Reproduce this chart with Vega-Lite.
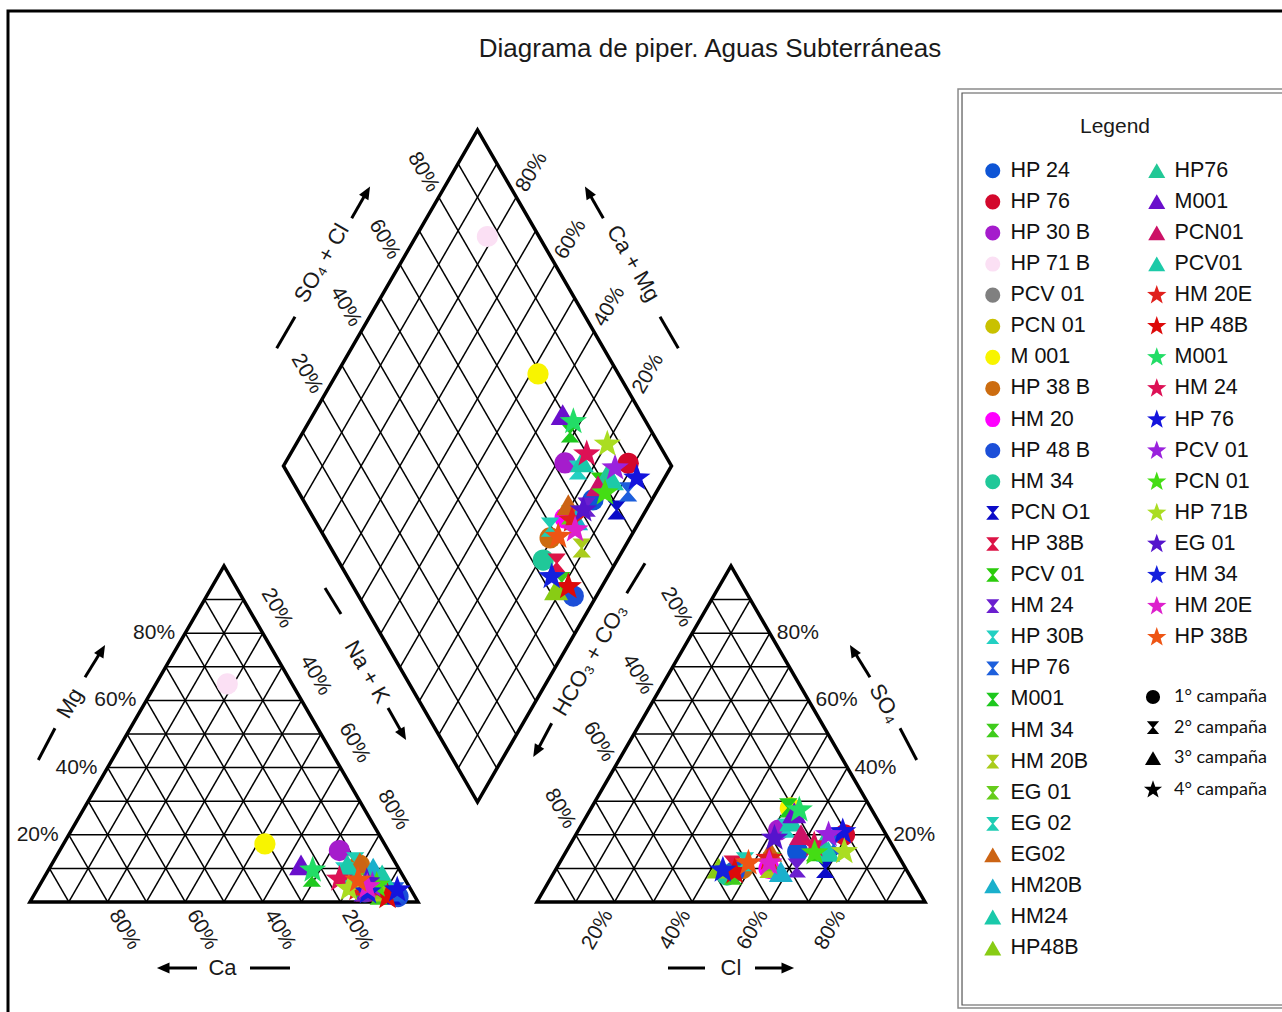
{
"$schema": "https://vega.github.io/schema/vega-lite/v6.json",
"width": 1282, "height": 1012, "padding": 0, "autosize": {"type": "none"},
"background": "white",
"config": {"view": {"stroke": null}},
"title": {"text": "Diagrama de piper. Aguas Subterráneas", "anchor": "middle", "frame": "group", "orient": "top", "offset": -83, "dx": 69, "font": "Liberation Sans", "fontSize": 26, "fontWeight": "normal", "color": "#1a1a1a", "baseline": "alphabetic"},
"encoding": {
  "x": {"field": "x", "type": "quantitative", "scale": {"domain": [-7.732, 322.68], "nice": false, "zero": false}, "axis": null},
  "y": {"field": "y", "type": "quantitative", "scale": {"domain": [-28.351, 232.474], "nice": false, "zero": false}, "axis": null}
},
"datasets": {
  "grid": [
    {"x":5,"y":8.66,"x2":95,"y2":8.66},{"x":10,"y":17.321,"x2":90,"y2":17.321},{"x":15,"y":25.981,"x2":85,"y2":25.981},{"x":20,"y":34.641,"x2":80,"y2":34.641},{"x":25,"y":43.301,"x2":75,"y2":43.301},{"x":30,"y":51.962,"x2":70,"y2":51.962},{"x":35,"y":60.622,"x2":65,"y2":60.622},{"x":40,"y":69.282,"x2":60,"y2":69.282},{"x":45,"y":77.942,"x2":55,"y2":77.942},
    {"x":10,"y":0,"x2":5,"y2":8.66},{"x":20,"y":0,"x2":10,"y2":17.321},{"x":30,"y":0,"x2":15,"y2":25.981},{"x":40,"y":0,"x2":20,"y2":34.641},{"x":50,"y":0,"x2":25,"y2":43.301},{"x":60,"y":0,"x2":30,"y2":51.962},{"x":70,"y":0,"x2":35,"y2":60.622},{"x":80,"y":0,"x2":40,"y2":69.282},{"x":90,"y":0,"x2":45,"y2":77.942},
    {"x":10,"y":0,"x2":55,"y2":77.942},{"x":20,"y":0,"x2":60,"y2":69.282},{"x":30,"y":0,"x2":65,"y2":60.622},{"x":40,"y":0,"x2":70,"y2":51.962},{"x":50,"y":0,"x2":75,"y2":43.301},{"x":60,"y":0,"x2":80,"y2":34.641},{"x":70,"y":0,"x2":85,"y2":25.981},{"x":80,"y":0,"x2":90,"y2":17.321},{"x":90,"y":0,"x2":95,"y2":8.66},
    {"x":135.67,"y":8.66,"x2":225.67,"y2":8.66},{"x":140.67,"y":17.321,"x2":220.67,"y2":17.321},{"x":145.67,"y":25.981,"x2":215.67,"y2":25.981},{"x":150.67,"y":34.641,"x2":210.67,"y2":34.641},{"x":155.67,"y":43.301,"x2":205.67,"y2":43.301},{"x":160.67,"y":51.962,"x2":200.67,"y2":51.962},{"x":165.67,"y":60.622,"x2":195.67,"y2":60.622},{"x":170.67,"y":69.282,"x2":190.67,"y2":69.282},{"x":175.67,"y":77.942,"x2":185.67,"y2":77.942},
    {"x":140.67,"y":0,"x2":135.67,"y2":8.66},{"x":150.67,"y":0,"x2":140.67,"y2":17.321},{"x":160.67,"y":0,"x2":145.67,"y2":25.981},{"x":170.67,"y":0,"x2":150.67,"y2":34.641},{"x":180.67,"y":0,"x2":155.67,"y2":43.301},{"x":190.67,"y":0,"x2":160.67,"y2":51.962},{"x":200.67,"y":0,"x2":165.67,"y2":60.622},{"x":210.67,"y":0,"x2":170.67,"y2":69.282},{"x":220.67,"y":0,"x2":175.67,"y2":77.942},
    {"x":140.67,"y":0,"x2":185.67,"y2":77.942},{"x":150.67,"y":0,"x2":190.67,"y2":69.282},{"x":160.67,"y":0,"x2":195.67,"y2":60.622},{"x":170.67,"y":0,"x2":200.67,"y2":51.962},{"x":180.67,"y":0,"x2":205.67,"y2":43.301},{"x":190.67,"y":0,"x2":210.67,"y2":34.641},{"x":200.67,"y":0,"x2":215.67,"y2":25.981},{"x":210.67,"y":0,"x2":220.67,"y2":17.321},{"x":220.67,"y":0,"x2":225.67,"y2":8.66},
    {"x":110.335,"y":34.43,"x2":160.335,"y2":121.033},{"x":105.335,"y":43.091,"x2":155.335,"y2":129.694},{"x":100.335,"y":51.751,"x2":150.335,"y2":138.354},{"x":95.335,"y":60.411,"x2":145.335,"y2":147.014},{"x":90.335,"y":69.072,"x2":140.335,"y2":155.675},{"x":85.335,"y":77.732,"x2":135.335,"y2":164.335},{"x":80.335,"y":86.392,"x2":130.335,"y2":172.995},{"x":75.335,"y":95.052,"x2":125.335,"y2":181.655},{"x":70.335,"y":103.713,"x2":120.335,"y2":190.316},
    {"x":120.335,"y":34.43,"x2":70.335,"y2":121.033},{"x":125.335,"y":43.091,"x2":75.335,"y2":129.694},{"x":130.335,"y":51.751,"x2":80.335,"y2":138.354},{"x":135.335,"y":60.411,"x2":85.335,"y2":147.014},{"x":140.335,"y":69.072,"x2":90.335,"y2":155.675},{"x":145.335,"y":77.732,"x2":95.335,"y2":164.335},{"x":150.335,"y":86.392,"x2":100.335,"y2":172.995},{"x":155.335,"y":95.052,"x2":105.335,"y2":181.655},{"x":160.335,"y":103.713,"x2":110.335,"y2":190.316}
  ],
  "outline": [
    {"p":"L","i":0,"x":50,"y":0},{"p":"L","i":1,"x":100,"y":0},{"p":"L","i":2,"x":50,"y":86.603},{"p":"L","i":3,"x":0,"y":0},{"p":"L","i":4,"x":50,"y":0},
    {"p":"R","i":0,"x":180.67,"y":0},{"p":"R","i":1,"x":230.67,"y":0},{"p":"R","i":2,"x":180.67,"y":86.603},{"p":"R","i":3,"x":130.67,"y":0},{"p":"R","i":4,"x":180.67,"y":0},
    {"p":"D","i":0,"x":90.335,"y":69.072},{"p":"D","i":1,"x":115.335,"y":25.77},{"p":"D","i":2,"x":165.335,"y":112.373},{"p":"D","i":3,"x":115.335,"y":198.976},{"p":"D","i":4,"x":65.335,"y":112.373},{"p":"D","i":5,"x":90.335,"y":69.072}
  ],
  "strokes": [
    {"x":56.70,"y":-17.01,"x2":67.01,"y2":-17.01},{"x":43.04,"y":-17.01,"x2":35.05,"y2":-17.01},
    {"x":164.43,"y":-17.01,"x2":173.97,"y2":-17.01},{"x":186.86,"y":-17.01,"x2":194.85,"y2":-17.01},
    {"x":2.14,"y":36.60,"x2":6.44,"y2":44.77},{"x":14.18,"y":57.91,"x2":18.04,"y2":64.18},
    {"x":76.03,"y":80.93,"x2":80.15,"y2":74.23},{"x":92.27,"y":50.0,"x2":95.62,"y2":44.07},
    {"x":63.58,"y":142.71,"x2":68.30,"y2":150.85},{"x":82.91,"y":176.21,"x2":86.34,"y2":182.22},
    {"x":167.09,"y":142.71,"x2":162.37,"y2":150.85},{"x":147.76,"y":176.21,"x2":144.33,"y2":182.22},
    {"x":153.79,"y":79.56,"x2":158.51,"y2":87.29},{"x":134.46,"y":46.06,"x2":130.93,"y2":39.43},
    {"x":228.53,"y":36.60,"x2":224.23,"y2":44.77},{"x":216.49,"y":57.91,"x2":212.63,"y2":64.18}
  ],
  "ptsA": [
    {"k":"HP 24|1","camp":"1° campaña","x":86.3,"y":2.6},{"k":"HP 24|1","camp":"1° campaña","x":197.87,"y":12.99},{"k":"HP 24|1","camp":"1° campaña","x":145.09,"y":103.63},
    {"k":"HP 76|2","camp":"1° campaña","x":89.95,"y":2.6},{"k":"HP 76|2","camp":"1° campaña","x":209.92,"y":17.32},{"k":"HP 76|2","camp":"1° campaña","x":154.19,"y":113.07},
    {"k":"HP 30 B|3","camp":"1° campaña","x":79.75,"y":13.25},{"k":"HP 30 B|3","camp":"1° campaña","x":192.97,"y":18.53},{"k":"HP 30 B|3","camp":"1° campaña","x":137.89,"y":113.15},
    {"k":"HP 71 B|4","camp":"1° campaña","x":50.85,"y":56.21},{"k":"HP 71 B|4","camp":"1° campaña","x":195.88,"y":23.71},{"k":"HP 71 B|4","camp":"1° campaña","x":117.89,"y":171.52},
    {"k":"M 001|7","camp":"1° campaña","x":60.55,"y":14.98},{"k":"M 001|7","camp":"1° campaña","x":195.97,"y":24.25},{"k":"M 001|7","camp":"1° campaña","x":130.94,"y":136.1},
    {"k":"HP 38 B|8","camp":"1° campaña","x":84.9,"y":9.53},{"k":"HP 38 B|8","camp":"1° campaña","x":183.67,"y":8.66},{"k":"HP 38 B|8","camp":"1° campaña","x":134.04,"y":93.84},
    {"k":"HM 20|9","camp":"1° campaña","x":83.3,"y":5.2},{"k":"HM 20|9","camp":"1° campaña","x":190.47,"y":8.66},{"k":"HM 20|9","camp":"1° campaña","x":137.89,"y":98.95},
    {"k":"HP 48 B|10","camp":"1° campaña","x":94.85,"y":1.39},{"k":"HP 48 B|10","camp":"1° campaña","x":181.52,"y":7.79},{"k":"HP 48 B|10","camp":"1° campaña","x":140.04,"y":78.86},
    {"k":"HM 34|11","camp":"1° campaña","x":83.45,"y":4.33},{"k":"HM 34|11","camp":"1° campaña","x":179.62,"y":6.93},{"k":"HM 34|11","camp":"1° campaña","x":132.29,"y":88.12},
    {"k":"PCN O1|12","camp":"2° campaña","x":93.4,"y":1.73},{"k":"PCN O1|12","camp":"2° campaña","x":204.97,"y":8.66},{"k":"PCN O1|12","camp":"2° campaña","x":151.19,"y":101.03},
    {"k":"HP 38B|13","camp":"2° campaña","x":86.35,"y":2.6},{"k":"HP 38B|13","camp":"2° campaña","x":181.12,"y":9.53},{"k":"HP 38B|13","camp":"2° campaña","x":135.74,"y":87.34},
    {"k":"PCV 01|14","camp":"2° campaña","x":85.95,"y":3.46},{"k":"PCV 01|14","camp":"2° campaña","x":202.32,"y":12.99},{"k":"PCV 01|14","camp":"2° campaña","x":146.89,"y":108.22},
    {"k":"HM 24|15","camp":"2° campaña","x":85.75,"y":2.6},{"k":"HM 24|15","camp":"2° campaña","x":197.62,"y":8.75},{"k":"HM 24|15","camp":"2° campaña","x":143.46,"y":101.76},
    {"k":"HP 30B|16","camp":"2° campaña","x":81.0,"y":7.79},{"k":"HP 30B|16","camp":"2° campaña","x":194.97,"y":19.05},{"k":"HP 30B|16","camp":"2° campaña","x":141.24,"y":111.33},
    {"k":"HP 76|17","camp":"2° campaña","x":94.15,"y":2.6},{"k":"HP 76|17","camp":"2° campaña","x":207.12,"y":14.72},{"k":"HP 76|17","camp":"2° campaña","x":154.14,"y":105.7},
    {"k":"M001|18","camp":"2° campaña","x":72.65,"y":6.41},{"k":"M001|18","camp":"2° campaña","x":195.42,"y":24.25},{"k":"M001|18","camp":"2° campaña","x":139.19,"y":120.86},
    {"k":"HM 34|19","camp":"2° campaña","x":89.9,"y":1.73},{"k":"HM 34|19","camp":"2° campaña","x":181.17,"y":6.93},{"k":"HM 34|19","camp":"2° campaña","x":137.04,"y":82.58},
    {"k":"HM 20B|20","camp":"2° campaña","x":90.55,"y":2.6},{"k":"HM 20B|20","camp":"2° campaña","x":190.32,"y":8.66},{"k":"HM 20B|20","camp":"2° campaña","x":142.19,"y":91.24},
    {"k":"EG 01|21","camp":"2° campaña","x":84.65,"y":6.06},{"k":"EG 01|21","camp":"2° campaña","x":191.22,"y":10.39},{"k":"EG 01|21","camp":"2° campaña","x":139.19,"y":99.73},
    {"k":"EG 02|22","camp":"2° campaña","x":83.8,"y":10.39},{"k":"EG 02|22","camp":"2° campaña","x":184.27,"y":10.39},{"k":"EG 02|22","camp":"2° campaña","x":134.04,"y":96.61},
    {"k":"EG02|23","camp":"3° campaña","x":85.0,"y":10.05},{"k":"EG02|23","camp":"3° campaña","x":190.77,"y":12.99},{"k":"EG02|23","camp":"3° campaña","x":138.74,"y":102.33},
    {"k":"HM20B|24","camp":"3° campaña","x":88.45,"y":8.66},{"k":"HM20B|24","camp":"3° campaña","x":193.52,"y":7.79},{"k":"HM20B|24","camp":"3° campaña","x":140.74,"y":98.43},
    {"k":"HM24|25","camp":"3° campaña","x":81.8,"y":9.53},{"k":"HM24|25","camp":"3° campaña","x":196.17,"y":20.78},{"k":"HM24|25","camp":"3° campaña","x":142.24,"y":113.41},
    {"k":"HP48B|26","camp":"3° campaña","x":90.7,"y":3.46},{"k":"HP48B|26","camp":"3° campaña","x":177.47,"y":8.66},{"k":"HP48B|26","camp":"3° campaña","x":135.59,"y":80.42}
  ],
  "ptsB": [
    {"k":"HP76|1","camp":"3° campaña","x":87.75,"y":5.2},{"k":"HP76|1","camp":"3° campaña","x":204.22,"y":14.72},{"k":"HP76|1","camp":"3° campaña","x":148.74,"y":110.03},
    {"k":"M001|2","camp":"3° campaña","x":69.85,"y":9.53},{"k":"M001|2","camp":"3° campaña","x":196.97,"y":22.95},{"k":"M001|2","camp":"3° campaña","x":137.29,"y":125.54},
    {"k":"PCN01|3","camp":"3° campaña","x":86.55,"y":4.33},{"k":"PCN01|3","camp":"3° campaña","x":198.72,"y":17.32},{"k":"PCN01|3","camp":"3° campaña","x":146.39,"y":107.18},
    {"k":"PCV01|4","camp":"3° campaña","x":90.75,"y":6.93},{"k":"PCV01|4","camp":"3° campaña","x":205.72,"y":12.99},{"k":"PCV01|4","camp":"3° campaña","x":149.99,"y":108.74},
    {"k":"HM 20E|5","camp":"4° campaña","x":84.4,"y":3.46},{"k":"HM 20E|5","camp":"4° campaña","x":190.47,"y":11.26},{"k":"HM 20E|5","camp":"4° campaña","x":139.69,"y":98.43},
    {"k":"HP 48B|6","camp":"4° campaña","x":92.15,"y":1.39},{"k":"HP 48B|6","camp":"4° campaña","x":181.62,"y":7.79},{"k":"HP 48B|6","camp":"4° campaña","x":138.74,"y":81.28},
    {"k":"M001|7","camp":"4° campaña","x":72.85,"y":8.23},{"k":"M001|7","camp":"4° campaña","x":198.27,"y":23.73},{"k":"M001|7","camp":"4° campaña","x":140.04,"y":123.8},
    {"k":"HM 24|8","camp":"4° campaña","x":79.75,"y":5.89},{"k":"HM 24|8","camp":"4° campaña","x":202.12,"y":14.72},{"k":"HM 24|8","camp":"4° campaña","x":143.49,"y":115.49},
    {"k":"HP 76|9","camp":"4° campaña","x":94.65,"y":3.12},{"k":"HP 76|9","camp":"4° campaña","x":209.47,"y":18.1},{"k":"HP 76|9","camp":"4° campaña","x":156.39,"y":109.26},
    {"k":"PCV 01|10","camp":"4° campaña","x":88.25,"y":4.33},{"k":"PCV 01|10","camp":"4° campaña","x":205.82,"y":17.32},{"k":"PCV 01|10","camp":"4° campaña","x":150.79,"y":111.85},
    {"k":"PCN 01|11","camp":"4° campaña","x":89.35,"y":4.33},{"k":"PCN 01|11","camp":"4° campaña","x":202.22,"y":12.64},{"k":"PCN 01|11","camp":"4° campaña","x":148.19,"y":105.44},
    {"k":"HP 71B|12","camp":"4° campaña","x":82.2,"y":3.46},{"k":"HP 71B|12","camp":"4° campaña","x":209.87,"y":12.99},{"k":"HP 71B|12","camp":"4° campaña","x":148.79,"y":118.0},
    {"k":"EG 01|13","camp":"4° campaña","x":86.8,"y":5.2},{"k":"EG 01|13","camp":"4° campaña","x":191.87,"y":16.45},{"k":"EG 01|13","camp":"4° campaña","x":142.59,"y":101.03},
    {"k":"HM 34|14","camp":"4° campaña","x":87.1,"y":2.6},{"k":"HM 34|14","camp":"4° campaña","x":178.57,"y":8.23},{"k":"HM 34|14","camp":"4° campaña","x":134.46,"y":83.84},
    {"k":"HM 20E|15","camp":"4° campaña","x":86.93,"y":3.94},{"k":"HM 20E|15","camp":"4° campaña","x":190.52,"y":10.05},{"k":"HM 20E|15","camp":"4° campaña","x":140.49,"y":95.92},
    {"k":"HP 38B|16","camp":"4° campaña","x":84.55,"y":5.63},{"k":"HP 38B|16","camp":"4° campaña","x":185.17,"y":10.05},{"k":"HP 38B|16","camp":"4° campaña","x":136.14,"y":94.19}
  ],
  "camps": [{"camp":"1° campaña"},{"camp":"2° campaña"},{"camp":"3° campaña"},{"camp":"4° campaña"}]
},
"layer": [
  {"data": {"values": [{"x": -5.67, "y": 229.64, "x2": 340, "y2": -40}]}, "mark": {"type": "rect", "fill": null, "fillOpacity": 0, "stroke": "black", "strokeWidth": 3},
   "encoding": {"x2": {"field": "x2"}, "y2": {"field": "y2"}}},
  {"data": {"values": [{"x": 239.18, "y": 209.54, "x2": 340, "y2": -27.32}]}, "mark": {"type": "rect", "fill": null, "fillOpacity": 0, "stroke": "#8a8a8a", "strokeWidth": 1.5},
   "encoding": {"x2": {"field": "x2"}, "y2": {"field": "y2"}}},
  {"data": {"values": [{"x": 240.21, "y": 208.51, "x2": 340, "y2": -26.55}]}, "mark": {"type": "rect", "fill": null, "fillOpacity": 0, "stroke": "#555555", "strokeWidth": 1.2},
   "encoding": {"x2": {"field": "x2"}, "y2": {"field": "y2"}}},
  {"data": {"name": "grid"}, "mark": {"type": "rule", "color": "black", "strokeWidth": 1.5},
   "encoding": {"x2": {"field": "x2"}, "y2": {"field": "y2"}}},
  {"data": {"name": "outline"}, "mark": {"type": "line", "color": "black", "strokeWidth": 3.5, "strokeJoin": "miter"},
   "encoding": {"detail": {"field": "p", "type": "nominal"}, "order": {"field": "i", "type": "quantitative"}}},
  {"data": {"name": "strokes"}, "mark": {"type": "rule", "color": "black", "strokeWidth": 3},
   "encoding": {"x2": {"field": "x2"}, "y2": {"field": "y2"}}},
  {"data": {"values": [{"x":34.41,"y":-17.01}]}, "mark": {"type": "point", "filled": true, "color": "black", "opacity": 1, "size": 144, "angle": 270, "shape": "M0,-1.1L0.9,1L-0.9,1Z"}},
  {"data": {"values": [{"x":195.23,"y":-17.01}]}, "mark": {"type": "point", "filled": true, "color": "black", "opacity": 1, "size": 144, "angle": 90, "shape": "M0,-1.1L0.9,1L-0.9,1Z"}},
  {"data": {"values": [{"x":18.49,"y":64.79},{"x":86.79,"y":182.91}]}, "mark": {"type": "point", "filled": true, "color": "black", "opacity": 1, "size": 144, "angle": 30, "shape": "M0,-1.1L0.9,1L-0.9,1Z"}},
  {"data": {"values": [{"x":96.07,"y":43.2}]}, "mark": {"type": "point", "filled": true, "color": "black", "opacity": 1, "size": 144, "angle": 150, "shape": "M0,-1.1L0.9,1L-0.9,1Z"}},
  {"data": {"values": [{"x":143.88,"y":182.91},{"x":212.18,"y":64.79}]}, "mark": {"type": "point", "filled": true, "color": "black", "opacity": 1, "size": 144, "angle": 330, "shape": "M0,-1.1L0.9,1L-0.9,1Z"}},
  {"data": {"values": [{"x":130.55,"y":38.87}]}, "mark": {"type": "point", "filled": true, "color": "black", "opacity": 1, "size": 144, "angle": 210, "shape": "M0,-1.1L0.9,1L-0.9,1Z"}},
  {"data": {"values": [{"t":"20%","x":7.4,"y":17.32},{"t":"40%","x":17.4,"y":34.64},{"t":"60%","x":27.4,"y":51.96},{"t":"80%","x":37.4,"y":69.28}]},
   "mark": {"type": "text", "align": "right", "baseline": "middle", "font": "Liberation Sans", "fontSize": 21, "color": "#1a1a1a"}, "encoding": {"text": {"field": "t"}}},
  {"data": {"values": [{"t":"20%","x":222.47,"y":17.32},{"t":"40%","x":212.47,"y":34.64},{"t":"60%","x":202.47,"y":51.96},{"t":"80%","x":192.47,"y":69.28}]},
   "mark": {"type": "text", "align": "left", "baseline": "middle", "font": "Liberation Sans", "fontSize": 21, "color": "#1a1a1a"}, "encoding": {"text": {"field": "t"}}},
  {"data": {"values": [{"t":"80%","x":21.65,"y":-2.45},{"t":"60%","x":41.65,"y":-2.45},{"t":"40%","x":61.65,"y":-2.45},{"t":"20%","x":81.65,"y":-2.45}]},
   "mark": {"type": "text", "align": "left", "baseline": "middle", "angle": 60, "font": "Liberation Sans", "fontSize": 21, "color": "#1a1a1a"}, "encoding": {"text": {"field": "t"}}},
  {"data": {"values": [{"t":"20%","x":149.02,"y":-2.45},{"t":"40%","x":169.02,"y":-2.45},{"t":"60%","x":189.02,"y":-2.45},{"t":"80%","x":209.02,"y":-2.45}]},
   "mark": {"type": "text", "align": "right", "baseline": "middle", "angle": 300, "font": "Liberation Sans", "fontSize": 21, "color": "#1a1a1a"}, "encoding": {"text": {"field": "t"}}},
  {"data": {"values": [{"t":"20%","x":63.6,"y":75.7},{"t":"40%","x":73.6,"y":58.4},{"t":"60%","x":83.6,"y":41.0},{"t":"80%","x":93.6,"y":23.7},
     {"t":"20%","x":71.335,"y":136.13},{"t":"40%","x":81.335,"y":153.45},{"t":"60%","x":91.335,"y":170.77},{"t":"80%","x":101.335,"y":188.1},
     {"t":"20%","x":166.57,"y":75.98},{"t":"40%","x":156.57,"y":58.66},{"t":"60%","x":146.57,"y":41.34},{"t":"80%","x":136.57,"y":24.02}]},
   "mark": {"type": "text", "align": "center", "baseline": "middle", "angle": 60, "font": "Liberation Sans", "fontSize": 21, "color": "#1a1a1a"}, "encoding": {"text": {"field": "t"}}},
  {"data": {"values": [{"t":"20%","x":159.335,"y":136.13},{"t":"40%","x":149.335,"y":153.45},{"t":"60%","x":139.335,"y":170.77},{"t":"80%","x":129.335,"y":188.1}]},
   "mark": {"type": "text", "align": "center", "baseline": "middle", "angle": 300, "font": "Liberation Sans", "fontSize": 21, "color": "#1a1a1a"}, "encoding": {"text": {"field": "t"}}},
  {"data": {"values": [{"t":"Ca","x":49.61,"y":-17.01},{"t":"Cl","x":180.67,"y":-17.01}]},
   "mark": {"type": "text", "align": "center", "baseline": "middle", "font": "Liberation Sans", "fontSize": 22, "color": "#1a1a1a"}, "encoding": {"text": {"field": "t"}}},
  {"data": {"values": [{"t":"Mg","x":10.31,"y":51.21},{"t":"SO₄ + Cl","x":75.18,"y":164.61},{"t":"HCO₃ + CO₃","x":144.33,"y":62.37}]},
   "mark": {"type": "text", "align": "center", "baseline": "middle", "angle": 300, "font": "Liberation Sans", "fontSize": 22, "color": "#1a1a1a"}, "encoding": {"text": {"field": "t"}}},
  {"data": {"values": [{"t":"Na + K","x":86.86,"y":59.28},{"t":"Ca + Mg","x":155.49,"y":164.61},{"t":"SO₄","x":220.36,"y":51.21}]},
   "mark": {"type": "text", "align": "center", "baseline": "middle", "angle": 60, "font": "Liberation Sans", "fontSize": 22, "color": "#1a1a1a"}, "encoding": {"text": {"field": "t"}}},
  {"data": {"values": [{"t":"Legend","x":279.64,"y":199.7}]}, "mark": {"type": "text", "align": "center", "baseline": "middle", "font": "Liberation Sans", "fontSize": 21, "color": "#1a1a1a"},
   "encoding": {"text": {"field": "t"}}},
  {"data": {"name": "ptsA"}, "mark": {"type": "point", "filled": true, "opacity": 1, "size": 450, "strokeWidth": 0},
   "encoding": {
     "color": {"field": "k", "type": "nominal",
       "scale": {"domain": ["HP 24|1","HP 76|2","HP 30 B|3","HP 71 B|4","PCV 01|5","PCN 01|6","M 001|7","HP 38 B|8","HM 20|9","HP 48 B|10","HM 34|11","PCN O1|12","HP 38B|13","PCV 01|14","HM 24|15","HP 30B|16","HP 76|17","M001|18","HM 34|19","HM 20B|20","EG 01|21","EG 02|22","EG02|23","HM20B|24","HM24|25","HP48B|26"],
                 "range": ["#0e55d5","#d3082c","#a51ccc","#fbe0f4","#808080","#c9c100","#f8f400","#cc6c10","#ff00ff","#1c4fd8","#20c899","#0c0cc8","#dc1446","#2bcc0c","#6b1fcf","#22d0c2","#1d5fdc","#1ec81e","#3fcc1c","#aacc1c","#66cc1c","#1fcdb4","#cc6414","#1ab0cc","#1ac9aa","#88cc14"]},
       "legend": {"title": null, "orient": "none", "legendX": 982, "legendY": 160, "labelFont": "Liberation Sans", "labelFontSize": 21.5, "labelColor": "#111111", "symbolSize": 227, "rowPadding": 8.1, "labelOffset": 7, "padding": 0, "labelLimit": 300, "symbolOpacity": 1, "symbolStrokeWidth": 0, "labelExpr": "split(datum.label, '|')[0]"}},
     "shape": {"field": "k", "type": "nominal",
       "scale": {"domain": ["HP 24|1","HP 76|2","HP 30 B|3","HP 71 B|4","PCV 01|5","PCN 01|6","M 001|7","HP 38 B|8","HM 20|9","HP 48 B|10","HM 34|11","PCN O1|12","HP 38B|13","PCV 01|14","HM 24|15","HP 30B|16","HP 76|17","M001|18","HM 34|19","HM 20B|20","EG 01|21","EG 02|22","EG02|23","HM20B|24","HM24|25","HP48B|26"],
                 "range": ["circle","circle","circle","circle","circle","circle","circle","circle","circle","circle","circle",
                   "M-0.87,-0.9L0.87,-0.9L0.1,0L0.87,0.9L-0.87,0.9L-0.1,0Z","M-0.87,-0.9L0.87,-0.9L0.1,0L0.87,0.9L-0.87,0.9L-0.1,0Z","M-0.87,-0.9L0.87,-0.9L0.1,0L0.87,0.9L-0.87,0.9L-0.1,0Z","M-0.87,-0.9L0.87,-0.9L0.1,0L0.87,0.9L-0.87,0.9L-0.1,0Z","M-0.87,-0.9L0.87,-0.9L0.1,0L0.87,0.9L-0.87,0.9L-0.1,0Z","M-0.87,-0.9L0.87,-0.9L0.1,0L0.87,0.9L-0.87,0.9L-0.1,0Z","M-0.87,-0.9L0.87,-0.9L0.1,0L0.87,0.9L-0.87,0.9L-0.1,0Z","M-0.87,-0.9L0.87,-0.9L0.1,0L0.87,0.9L-0.87,0.9L-0.1,0Z","M-0.87,-0.9L0.87,-0.9L0.1,0L0.87,0.9L-0.87,0.9L-0.1,0Z","M-0.87,-0.9L0.87,-0.9L0.1,0L0.87,0.9L-0.87,0.9L-0.1,0Z","M-0.87,-0.9L0.87,-0.9L0.1,0L0.87,0.9L-0.87,0.9L-0.1,0Z",
                   "M0,-1L1.13,0.96L-1.13,0.96Z","M0,-1L1.13,0.96L-1.13,0.96Z","M0,-1L1.13,0.96L-1.13,0.96Z","M0,-1L1.13,0.96L-1.13,0.96Z"]},
       "legend": {"title": null, "orient": "none", "legendX": 982, "legendY": 160, "labelFont": "Liberation Sans", "labelFontSize": 21.5, "labelColor": "#111111", "symbolSize": 227, "rowPadding": 8.1, "labelOffset": 7, "padding": 0, "labelLimit": 300, "symbolOpacity": 1, "symbolStrokeWidth": 0, "labelExpr": "split(datum.label, '|')[0]"}}
   }},
  {"data": {"name": "ptsB"}, "mark": {"type": "point", "filled": true, "opacity": 1, "size": 450, "strokeWidth": 0},
   "encoding": {
     "color": {"field": "k", "type": "nominal",
       "scale": {"domain": ["HP76|1","M001|2","PCN01|3","PCV01|4","HM 20E|5","HP 48B|6","M001|7","HM 24|8","HP 76|9","PCV 01|10","PCN 01|11","HP 71B|12","EG 01|13","HM 34|14","HM 20E|15","HP 38B|16"],
                 "range": ["#22c896","#6a0fcc","#cc1166","#1ccaa8","#e0201c","#dd0a0a","#22dd66","#dd1155","#1414dd","#9a22dd","#44dd14","#aadd22","#5514cc","#1420dd","#dd20cc","#ee5514"]},
       "legend": {"title": null, "orient": "none", "legendX": 1146, "legendY": 160, "labelFont": "Liberation Sans", "labelFontSize": 21.5, "labelColor": "#111111", "symbolSize": 227, "rowPadding": 8.1, "labelOffset": 7, "padding": 0, "labelLimit": 300, "symbolOpacity": 1, "symbolStrokeWidth": 0, "labelExpr": "split(datum.label, '|')[0]"}},
     "shape": {"field": "k", "type": "nominal",
       "scale": {"domain": ["HP76|1","M001|2","PCN01|3","PCV01|4","HM 20E|5","HP 48B|6","M001|7","HM 24|8","HP 76|9","PCV 01|10","PCN 01|11","HP 71B|12","EG 01|13","HM 34|14","HM 20E|15","HP 38B|16"],
                 "range": ["M0,-1L1.13,0.96L-1.13,0.96Z","M0,-1L1.13,0.96L-1.13,0.96Z","M0,-1L1.13,0.96L-1.13,0.96Z","M0,-1L1.13,0.96L-1.13,0.96Z",
                   "M0,-1.35L0.323,-0.445L1.284,-0.417L0.523,0.17L0.794,1.092L0,0.55L-0.794,1.092L-0.523,0.17L-1.284,-0.417L-0.323,-0.445Z","M0,-1.35L0.323,-0.445L1.284,-0.417L0.523,0.17L0.794,1.092L0,0.55L-0.794,1.092L-0.523,0.17L-1.284,-0.417L-0.323,-0.445Z","M0,-1.35L0.323,-0.445L1.284,-0.417L0.523,0.17L0.794,1.092L0,0.55L-0.794,1.092L-0.523,0.17L-1.284,-0.417L-0.323,-0.445Z","M0,-1.35L0.323,-0.445L1.284,-0.417L0.523,0.17L0.794,1.092L0,0.55L-0.794,1.092L-0.523,0.17L-1.284,-0.417L-0.323,-0.445Z","M0,-1.35L0.323,-0.445L1.284,-0.417L0.523,0.17L0.794,1.092L0,0.55L-0.794,1.092L-0.523,0.17L-1.284,-0.417L-0.323,-0.445Z","M0,-1.35L0.323,-0.445L1.284,-0.417L0.523,0.17L0.794,1.092L0,0.55L-0.794,1.092L-0.523,0.17L-1.284,-0.417L-0.323,-0.445Z","M0,-1.35L0.323,-0.445L1.284,-0.417L0.523,0.17L0.794,1.092L0,0.55L-0.794,1.092L-0.523,0.17L-1.284,-0.417L-0.323,-0.445Z","M0,-1.35L0.323,-0.445L1.284,-0.417L0.523,0.17L0.794,1.092L0,0.55L-0.794,1.092L-0.523,0.17L-1.284,-0.417L-0.323,-0.445Z","M0,-1.35L0.323,-0.445L1.284,-0.417L0.523,0.17L0.794,1.092L0,0.55L-0.794,1.092L-0.523,0.17L-1.284,-0.417L-0.323,-0.445Z","M0,-1.35L0.323,-0.445L1.284,-0.417L0.523,0.17L0.794,1.092L0,0.55L-0.794,1.092L-0.523,0.17L-1.284,-0.417L-0.323,-0.445Z","M0,-1.35L0.323,-0.445L1.284,-0.417L0.523,0.17L0.794,1.092L0,0.55L-0.794,1.092L-0.523,0.17L-1.284,-0.417L-0.323,-0.445Z","M0,-1.35L0.323,-0.445L1.284,-0.417L0.523,0.17L0.794,1.092L0,0.55L-0.794,1.092L-0.523,0.17L-1.284,-0.417L-0.323,-0.445Z"]},
       "legend": {"title": null, "orient": "none", "legendX": 1146, "legendY": 160, "labelFont": "Liberation Sans", "labelFontSize": 21.5, "labelColor": "#111111", "symbolSize": 227, "rowPadding": 8.1, "labelOffset": 7, "padding": 0, "labelLimit": 300, "symbolOpacity": 1, "symbolStrokeWidth": 0, "labelExpr": "split(datum.label, '|')[0]"}}
   }},
  {"data": {"name": "camps"}, "transform": [{"filter": "false"}], "mark": {"type": "point", "filled": true, "color": "black", "opacity": 1},
   "encoding": {
     "shape": {"field": "camp", "type": "nominal",
       "scale": {"domain": ["1° campaña","2° campaña","3° campaña","4° campaña"],
                 "range": ["circle","M-0.87,-0.9L0.87,-0.9L0.1,0L0.87,0.9L-0.87,0.9L-0.1,0Z","M0,-1L1.13,0.96L-1.13,0.96Z","M0,-1.35L0.323,-0.445L1.284,-0.417L0.523,0.17L0.794,1.092L0,0.55L-0.794,1.092L-0.523,0.17L-1.284,-0.417L-0.323,-0.445Z"]},
       "legend": {"title": null, "orient": "none", "legendX": 1144, "legendY": 688, "labelFont": "Lato", "labelFontSize": 18, "labelColor": "#111111", "symbolSize": 200, "rowPadding": 12.6, "labelOffset": 12, "padding": 0, "symbolFillColor": "black", "symbolStrokeWidth": 0, "symbolOpacity": 1}}
   }}
],
"resolve": {"scale": {"color": "independent", "shape": "independent"}, "legend": {"color": "independent", "shape": "independent"}}
}
